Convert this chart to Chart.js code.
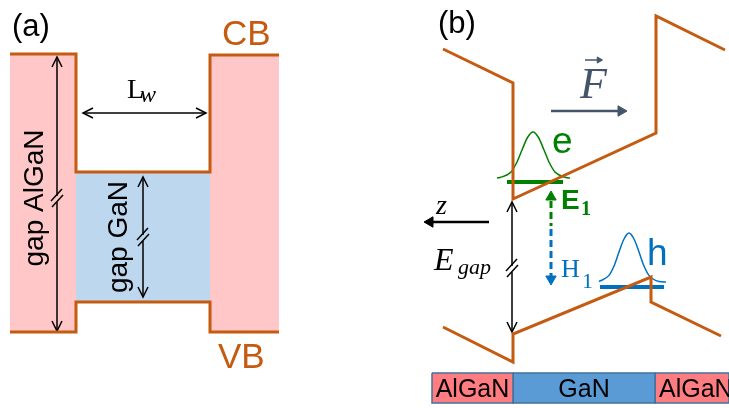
<!DOCTYPE html>
<html>
<head>
<meta charset="utf-8">
<script src="https://cdn.jsdelivr.net/npm/chart.js@4"></script>
<style>
    html, body { margin: 0; padding: 0; background: #fff; }
    #wrap { width: 729px; height: 408px; position: relative; }
</style>
</head>
<body>
<div id="wrap"><canvas id="bands"></canvas></div>
<script>
//colors
const orange = '#C55A11';
const green = '#008000';
const blue = '#0070C0';
const slate = '#44546A';

/*
    Data (picture coordinates, y grows downward)
*/
// panel (a): square well
const cbWell = [[10,54],[76,54],[76,172],[210,172],[210,55],[279,55]];
const vbWell = [[10,332],[76,332],[76,302],[210,302],[210,332],[279,332]];
const barrierLeft = [[10,54],[76,54],[76,332],[10,332],[10,54]];
const barrierRight = [[210,55],[279,55],[279,332],[210,332],[210,55]];
const wellGap = [[76,172],[210,172],[210,302],[76,302],[76,172]];

// panel (b): tilted well under field
const cbTilt = [[443,49],[513,83],[513,199],[656,133],[656,16],[725,50]];
const vbTilt = [[443,327],[513,362],[513,334],[651,277],[651,302],[721,336]];
const electronWave = [[497,178],[500,177.5],[511,172],[516.5,163],[522,150],[527.5,137.5],[533,132],[538.5,137.5],[544,150],[549.5,163],[555,172],[566,177.5],[570,178]];
const holeWave = [[599,281.5],[609,275.4],[614,266],[619,252],[624,239],[629,233],[634,239],[639,252],[644,266],[649,275.4],[659,281.5],[666,282]];
const e1Level = [[507,182],[563,182]];
const h1Level = [[600,287],[664,287]];

// layer strip
const layerNames = ['AlGaN', 'GaN', 'AlGaN'];
const layerEdges = [432, 513, 655, 729];
const layerColors = ['#FF7C80', '#5B9BD5', '#FF7C80'];

/*
    Helpers
*/
function pts(list) {
    return list.map(p => ({x: p[0], y: p[1]}));
}

function seg(list, color, width, more) {
    return Object.assign({
        data: pts(list),
        showLine: true,
        borderColor: color,
        borderWidth: width,
        pointRadius: 0,
        fill: false,
        order: 1,
    }, more || {});
}

function box(list, fillColor, lineColor, width) {
    return {
        data: pts(list),
        showLine: true,
        borderColor: lineColor || 'rgba(0,0,0,0)',
        borderWidth: width || 0,
        backgroundColor: fillColor,
        pointRadius: 0,
        fill: 'shape',
        order: 5,
    };
}

function head(x, y, rot, color, r) {
    return {
        data: [{x: x, y: y}],
        showLine: false,
        pointStyle: 'triangle',
        rotation: rot,
        pointRadius: r,
        backgroundColor: color,
        borderColor: color,
        borderWidth: 1,
        order: 0,
    };
}

// open arrow tips
function tipUp(x, y) { return seg([[x-5,y+10],[x,y],[x+5,y+10]], '#000', 1.5); }
function tipDown(x, y) { return seg([[x-5,y-10],[x,y],[x+5,y-10]], '#000', 1.5); }
function tipLeft(x, y) { return seg([[x+10,y-5],[x,y],[x+10,y+5]], '#000', 1.5); }
function tipRight(x, y) { return seg([[x-10,y-5],[x,y],[x-10,y+5]], '#000', 1.5); }

// vertical double arrow with a break mark
function brokenArrow(x, top, bottom, brk) {
    return [
        seg([[x,top],[x,brk-3]], '#000', 1.5),
        seg([[x,brk+3],[x,bottom]], '#000', 1.5),
        seg([[x-6,brk+2],[x+5,brk-10]], '#000', 1.5),
        seg([[x-5,brk+8],[x+6,brk-4]], '#000', 1.5),
        tipUp(x, top),
        tipDown(x, bottom),
    ];
}

let datasets = [];

// fills
datasets.push(box(barrierLeft, '#FFC7C7'));
datasets.push(box(barrierRight, '#FFC7C7'));
datasets.push(box(wellGap, '#BDD7EE'));
for (let i = 0; i < layerNames.length; i++) {
    let a = layerEdges[i], b = layerEdges[i + 1];
    datasets.push(box([[a,373],[b,373],[b,403],[a,403],[a,373]], layerColors[i], '#41719C', 1.5));
}

// band edges
datasets.push(seg(cbWell, orange, 3));
datasets.push(seg(vbWell, orange, 3));
datasets.push(seg(cbTilt, orange, 3));
datasets.push(seg(vbTilt, orange, 3));

// arrows of panel (a)
datasets.push(...brokenArrow(57, 57, 331, 199));
datasets.push(...brokenArrow(143, 177, 297, 238));
datasets.push(seg([[83,113],[206,113]], '#000', 1.5));
datasets.push(tipLeft(83, 113));
datasets.push(tipRight(206, 113));

// panel (b)
datasets.push(...brokenArrow(512, 202, 332, 269));
datasets.push(seg(electronWave, green, 1.5, {cubicInterpolationMode: 'monotone'}));
datasets.push(seg(holeWave, blue, 1.5, {cubicInterpolationMode: 'monotone'}));
datasets.push(seg(e1Level, green, 4));
datasets.push(seg(h1Level, blue, 4));
datasets.push(seg([[551,201],[551,226]], green, 3, {borderDash: [7, 4]}));
datasets.push(seg([[551,229],[551,276]], blue, 3, {borderDash: [7, 4]}));
datasets.push(head(551, 197, 0, green, 6));
datasets.push(head(551, 279, 180, blue, 6));

// field and z axis arrows
datasets.push(seg([[551,111],[619,111]], slate, 2.5));
datasets.push(head(621, 111, 90, slate, 6));
datasets.push(seg([[585,60],[597,60]], slate, 1.5));
datasets.push(head(599, 60, 90, slate, 3.5));
datasets.push(seg([[433,222],[489,222]], '#000', 2.5));
datasets.push(head(430, 222, 270, '#000', 6));

/*
    Text labels
*/
const labelsPlugin = {
    id: 'labels',
    afterDatasetsDraw(chart) {
        const ctx = chart.ctx;
        const sx = v => chart.scales.x.getPixelForValue(v);
        const sy = v => chart.scales.y.getPixelForValue(v);

        function txt(s, x, y, font, color, align, rot) {
            ctx.save();
            ctx.translate(sx(x), sy(y));
            if (rot) ctx.rotate(rot);
            ctx.font = font;
            ctx.fillStyle = color;
            ctx.textAlign = align || 'left';
            ctx.textBaseline = 'alphabetic';
            ctx.fillText(s, 0, 0);
            ctx.restore();
        }

        const sans = '"Liberation Sans", Arial, sans-serif';
        const serif = '"Liberation Serif", "DejaVu Serif", serif';

        txt('(a)', 12, 36, '31px ' + sans, '#000');
        txt('(b)', 438, 33, '31px ' + sans, '#000');
        txt('CB', 222, 45, '35px ' + sans, orange);
        txt('VB', 218, 368, '35px ' + sans, orange);

        txt('L', 127, 98, '28px ' + serif, '#000');
        txt('w', 140, 102, 'italic 24px ' + serif, '#000');
        txt('gap AlGaN', 43, 198, '28px ' + sans, '#000', 'center', -Math.PI / 2);
        txt('gap GaN', 127, 237, '28px ' + sans, '#000', 'center', -Math.PI / 2);

        txt('F', 580, 98, 'italic 44px ' + serif, slate);
        txt('e', 552, 153, '37px ' + sans, green);
        txt('E', 561, 209, 'bold 28px ' + sans, green);
        txt('1', 581, 215, 'bold 20px ' + serif, green);
        txt('H', 561, 277, '26px ' + serif, blue);
        txt('1', 582, 288, '22px ' + serif, blue);
        txt('h', 647, 265, '37px ' + sans, blue);
        txt('z', 436, 214, 'italic 28px ' + serif, '#000');
        txt('E', 434, 270, 'italic 32px ' + serif, '#000');
        txt('gap', 458, 274, 'italic 22px ' + serif, '#000');

        for (let i = 0; i < layerNames.length; i++) {
            let mid = (layerEdges[i] + layerEdges[i + 1]) / 2;
            if (i == layerNames.length - 1)
                txt(layerNames[i], 659, 397, '25px ' + sans, '#000');
            else
                txt(layerNames[i], mid, 397, '25px ' + sans, '#000', 'center');
        }
    }
};

const ctx = document.getElementById('bands').getContext('2d');
const bandChart = new Chart(ctx, {
    type: 'scatter',
    data: {datasets: datasets},
    options: {
        responsive: true,
        maintainAspectRatio: false,
        animation: false,
        events: [],
        layout: {padding: 0, autoPadding: false},
        plugins: {
            legend: {display: false},
            tooltip: {enabled: false},
        },
        scales: {
            x: {type: 'linear', min: 0, max: 729, display: false},
            y: {type: 'linear', min: 0, max: 408, reverse: true, display: false},
        },
    },
    plugins: [labelsPlugin],
});
</script>
</body>
</html>
